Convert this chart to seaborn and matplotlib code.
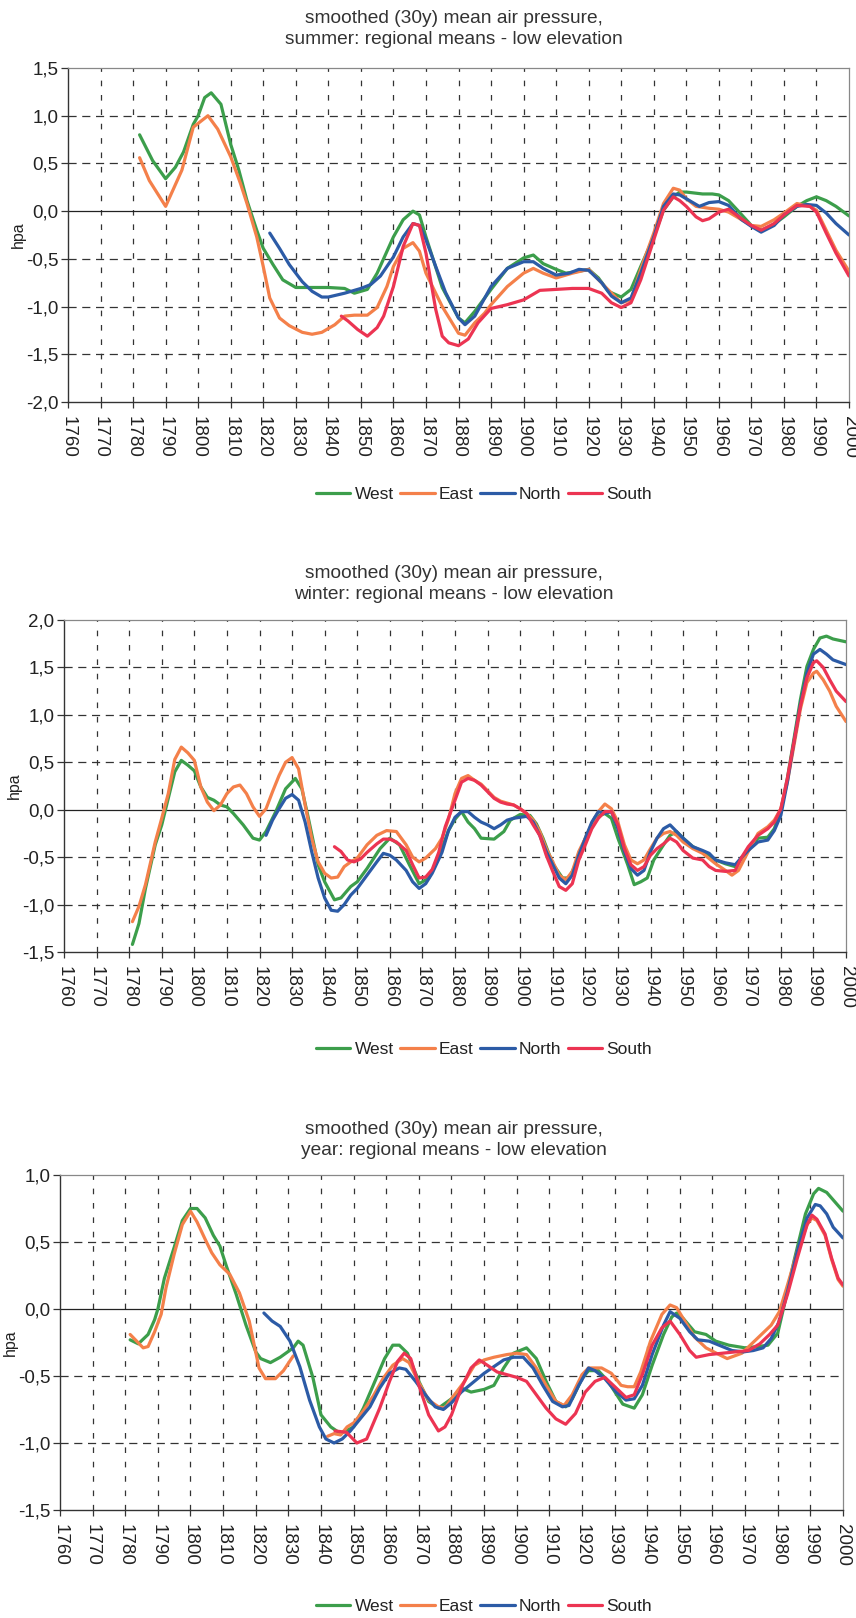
import numpy as np
import pandas as pd
import matplotlib
matplotlib.use("Agg")
import matplotlib.pyplot as plt
import seaborn as sns
from matplotlib.ticker import FuncFormatter, MultipleLocator

# ---- data (year, hpa) ----
SUMMER_WEST = [(1782, 0.80), (1786, 0.53), (1790, 0.34), (1793, 0.46), (1795.5, 0.62), (1798.5, 0.91),
               (1800, 1.00), (1802, 1.19), (1804, 1.24), (1807, 1.12), (1810, 0.70), (1812.5, 0.43),
               (1815, 0.11), (1818, -0.20), (1820, -0.39), (1823, -0.56), (1826, -0.72), (1830, -0.80),
               (1840, -0.80), (1845, -0.81), (1848, -0.86), (1852, -0.82), (1855, -0.65), (1860, -0.27),
               (1863, -0.09), (1866, 0.00), (1868, -0.04), (1870, -0.27), (1875, -0.80), (1880, -1.12),
               (1882, -1.17), (1885, -1.05), (1890, -0.82), (1895, -0.60), (1900, -0.49), (1903, -0.46),
               (1906, -0.55), (1910, -0.61), (1913, -0.65), (1917, -0.63), (1920, -0.61), (1923, -0.70),
               (1926, -0.84), (1930, -0.90), (1933, -0.82), (1936, -0.58), (1940, -0.27), (1943, 0.01),
               (1946, 0.15), (1948, 0.20), (1950, 0.20), (1955, 0.18), (1958, 0.18), (1960, 0.17),
               (1963, 0.11), (1966, 0.00), (1970, -0.15), (1973, -0.20), (1976, -0.16), (1980, -0.06),
               (1984, 0.05), (1987, 0.11), (1990, 0.15), (1993, 0.11), (1996, 0.05), (2000, -0.05)]
SUMMER_EAST = [(1782, 0.56), (1785, 0.32), (1790, 0.05), (1795, 0.43), (1798.5, 0.88), (1803, 1.00),
               (1806, 0.86), (1810, 0.57), (1813, 0.29), (1815, 0.08), (1818, -0.27), (1820, -0.58),
               (1822, -0.91), (1825, -1.12), (1828, -1.20), (1832, -1.27), (1835, -1.29), (1838, -1.27),
               (1842, -1.19), (1845, -1.10), (1848, -1.09), (1852, -1.09), (1855, -1.01), (1858, -0.79),
               (1860, -0.58), (1863, -0.39), (1866, -0.33), (1868, -0.42), (1870, -0.65), (1875, -1.00),
               (1880, -1.28), (1882, -1.30), (1885, -1.17), (1888, -1.07), (1890, -0.98), (1895, -0.79),
               (1900, -0.65), (1903, -0.60), (1906, -0.65), (1910, -0.70), (1915, -0.65), (1920, -0.61),
               (1925, -0.79), (1930, -0.96), (1933, -0.93), (1936, -0.61), (1940, -0.23), (1943, 0.08),
               (1946, 0.24), (1948, 0.22), (1950, 0.13), (1953, 0.05), (1957, 0.03), (1960, 0.02),
               (1963, -0.01), (1967, -0.09), (1970, -0.15), (1973, -0.16), (1977, -0.09), (1980, -0.02),
               (1984, 0.08), (1988, 0.05), (1990, 0.01), (1993, -0.20), (1996, -0.41), (2000, -0.63)]
SUMMER_NORTH = [(1822, -0.23), (1825, -0.39), (1828, -0.56), (1832, -0.74), (1835, -0.84), (1838, -0.90),
                (1840, -0.90), (1845, -0.86), (1850, -0.81), (1853, -0.77), (1856, -0.68), (1860, -0.48),
                (1863, -0.27), (1866, -0.13), (1868, -0.15), (1870, -0.30), (1873, -0.58), (1876, -0.85),
                (1880, -1.12), (1882, -1.19), (1885, -1.10), (1890, -0.79), (1895, -0.60), (1900, -0.53),
                (1903, -0.53), (1906, -0.60), (1910, -0.67), (1914, -0.65), (1917, -0.61), (1920, -0.62),
                (1924, -0.75), (1927, -0.89), (1930, -0.96), (1933, -0.91), (1936, -0.65), (1940, -0.27),
                (1943, 0.05), (1946, 0.18), (1948, 0.17), (1951, 0.11), (1954, 0.05), (1957, 0.09),
                (1960, 0.10), (1963, 0.06), (1967, -0.09), (1970, -0.16), (1973, -0.22), (1977, -0.15),
                (1980, -0.04), (1984, 0.05), (1987, 0.07), (1990, 0.06), (1993, -0.02), (1996, -0.13),
                (2000, -0.25)]
SUMMER_SOUTH = [(1844, -1.10), (1846, -1.15), (1849, -1.24), (1852, -1.31), (1855, -1.22), (1857, -1.10),
                (1860, -0.79), (1863, -0.37), (1866, -0.13), (1868, -0.15), (1870, -0.44), (1873, -1.03),
                (1875, -1.31), (1877, -1.38), (1880, -1.41), (1883, -1.34), (1886, -1.17), (1890, -1.02),
                (1895, -0.98), (1900, -0.93), (1905, -0.83), (1910, -0.82), (1915, -0.81), (1920, -0.81),
                (1924, -0.86), (1927, -0.96), (1930, -1.01), (1933, -0.96), (1936, -0.72), (1940, -0.30),
                (1943, 0.01), (1946, 0.15), (1948, 0.11), (1950, 0.05), (1953, -0.06), (1955, -0.10),
                (1957, -0.08), (1960, -0.01), (1963, 0.02), (1967, -0.08), (1970, -0.15), (1973, -0.20),
                (1977, -0.13), (1980, -0.04), (1984, 0.06), (1988, 0.05), (1990, -0.01), (1993, -0.23),
                (1996, -0.44), (2000, -0.68)]

WINTER_WEST = [(1781, -1.42), (1783, -1.20), (1785, -0.83), (1788, -0.37), (1790, -0.16), (1792, 0.12),
               (1794, 0.40), (1796, 0.52), (1798, 0.47), (1800, 0.41), (1802, 0.24), (1804, 0.13),
               (1806, 0.10), (1808, 0.05), (1810, 0.03), (1812, -0.04), (1815, -0.16), (1818, -0.30),
               (1820, -0.32), (1822, -0.23), (1825, -0.02), (1828, 0.22), (1831, 0.33), (1833, 0.22),
               (1835, -0.09), (1838, -0.58), (1840, -0.76), (1843, -0.95), (1845, -0.93), (1848, -0.81),
               (1850, -0.76), (1853, -0.62), (1857, -0.41), (1860, -0.30), (1863, -0.37), (1866, -0.58),
               (1869, -0.78), (1872, -0.72), (1875, -0.50), (1878, -0.22), (1880, -0.10), (1882, -0.02),
               (1884, -0.13), (1886, -0.20), (1888, -0.30), (1892, -0.31), (1895, -0.23), (1897, -0.11),
               (1900, -0.05), (1903, -0.06), (1905, -0.15), (1907, -0.30), (1910, -0.57), (1913, -0.72),
               (1915, -0.72), (1917, -0.58), (1920, -0.30), (1923, -0.08), (1926, -0.04), (1928, -0.09),
               (1930, -0.30), (1933, -0.58), (1935, -0.79), (1937, -0.76), (1939, -0.72), (1941, -0.53),
               (1944, -0.37), (1946, -0.27), (1948, -0.23), (1950, -0.30), (1953, -0.39), (1956, -0.44),
               (1960, -0.53), (1963, -0.57), (1966, -0.60), (1968, -0.51), (1970, -0.43), (1973, -0.30),
               (1976, -0.29), (1978, -0.20), (1980, -0.01), (1982, 0.33), (1984, 0.74), (1986, 1.16),
               (1988, 1.51), (1990, 1.69), (1992, 1.81), (1994, 1.83), (1996, 1.80), (2000, 1.77)]
WINTER_EAST = [(1781, -1.18), (1783, -1.02), (1785, -0.79), (1788, -0.34), (1790, -0.09), (1792, 0.17),
               (1794, 0.53), (1796, 0.66), (1798, 0.60), (1800, 0.52), (1802, 0.24), (1804, 0.08),
               (1806, -0.01), (1808, 0.05), (1810, 0.17), (1812, 0.24), (1814, 0.26), (1816, 0.17),
               (1818, 0.03), (1820, -0.07), (1822, 0.01), (1824, 0.19), (1826, 0.36), (1828, 0.50),
               (1830, 0.55), (1832, 0.43), (1834, 0.05), (1836, -0.30), (1838, -0.55), (1840, -0.67),
               (1842, -0.72), (1844, -0.71), (1846, -0.60), (1848, -0.55), (1850, -0.51), (1853, -0.37),
               (1856, -0.27), (1859, -0.22), (1862, -0.23), (1865, -0.37), (1867, -0.50), (1869, -0.55),
               (1871, -0.51), (1874, -0.41), (1876, -0.30), (1878, -0.10), (1880, 0.17), (1882, 0.33),
               (1884, 0.36), (1886, 0.31), (1888, 0.27), (1890, 0.20), (1892, 0.13), (1894, 0.09),
               (1896, 0.07), (1898, 0.05), (1900, 0.01), (1902, -0.04), (1904, -0.11), (1906, -0.23),
               (1908, -0.41), (1910, -0.55), (1912, -0.69), (1914, -0.74), (1916, -0.65), (1918, -0.44),
               (1920, -0.30), (1922, -0.15), (1924, -0.02), (1926, 0.06), (1928, 0.01), (1930, -0.13),
               (1932, -0.37), (1934, -0.53), (1936, -0.57), (1938, -0.53), (1940, -0.41), (1942, -0.30),
               (1944, -0.25), (1946, -0.23), (1948, -0.27), (1950, -0.34), (1953, -0.41), (1956, -0.46),
               (1960, -0.57), (1963, -0.64), (1965, -0.69), (1967, -0.64), (1970, -0.44), (1973, -0.25),
               (1976, -0.18), (1978, -0.11), (1980, 0.01), (1982, 0.29), (1984, 0.67), (1986, 1.06),
               (1988, 1.34), (1990, 1.44), (1991, 1.46), (1993, 1.37), (1995, 1.25), (1997, 1.09),
               (2000, 0.93)]
WINTER_NORTH = [(1822, -0.27), (1824, -0.11), (1826, 0.01), (1828, 0.12), (1830, 0.16), (1832, 0.10),
                (1834, -0.13), (1836, -0.44), (1838, -0.72), (1840, -0.93), (1842, -1.06), (1844, -1.07),
                (1846, -1.00), (1848, -0.90), (1850, -0.83), (1853, -0.69), (1856, -0.55), (1858, -0.46),
                (1860, -0.48), (1862, -0.53), (1865, -0.64), (1867, -0.76), (1869, -0.83), (1871, -0.78),
                (1873, -0.67), (1876, -0.45), (1878, -0.22), (1880, -0.08), (1882, -0.02), (1884, -0.02),
                (1886, -0.08), (1888, -0.13), (1890, -0.16), (1892, -0.20), (1894, -0.16), (1896, -0.11),
                (1898, -0.09), (1900, -0.08), (1902, -0.07), (1904, -0.13), (1906, -0.27), (1908, -0.44),
                (1910, -0.58), (1912, -0.72), (1914, -0.78), (1916, -0.69), (1918, -0.48), (1920, -0.30),
                (1922, -0.13), (1924, -0.02), (1926, -0.04), (1928, -0.02), (1930, -0.20), (1932, -0.44),
                (1934, -0.62), (1936, -0.69), (1938, -0.64), (1940, -0.44), (1942, -0.30), (1944, -0.20),
                (1946, -0.16), (1948, -0.23), (1950, -0.30), (1953, -0.39), (1956, -0.43), (1958, -0.46),
                (1960, -0.53), (1963, -0.56), (1966, -0.58), (1968, -0.50), (1970, -0.43), (1973, -0.34),
                (1976, -0.32), (1978, -0.22), (1980, -0.06), (1982, 0.29), (1984, 0.71), (1986, 1.11),
                (1988, 1.44), (1990, 1.64), (1992, 1.69), (1994, 1.64), (1996, 1.58), (2000, 1.53)]
WINTER_SOUTH = [(1843, -0.39), (1845, -0.44), (1847, -0.53), (1849, -0.55), (1851, -0.52), (1853, -0.45),
                (1856, -0.36), (1858, -0.31), (1860, -0.31), (1862, -0.34), (1865, -0.43), (1867, -0.58),
                (1869, -0.72), (1871, -0.71), (1873, -0.63), (1875, -0.45), (1877, -0.18), (1880, 0.10),
                (1882, 0.29), (1884, 0.33), (1886, 0.31), (1888, 0.26), (1890, 0.19), (1892, 0.12),
                (1894, 0.08), (1896, 0.06), (1898, 0.05), (1900, 0.01), (1902, -0.04), (1904, -0.16),
                (1906, -0.27), (1908, -0.48), (1910, -0.65), (1912, -0.81), (1914, -0.85), (1916, -0.78),
                (1918, -0.53), (1920, -0.37), (1922, -0.20), (1924, -0.09), (1926, -0.02), (1928, -0.02),
                (1930, -0.16), (1932, -0.41), (1934, -0.58), (1936, -0.64), (1938, -0.60), (1940, -0.48),
                (1942, -0.41), (1944, -0.36), (1946, -0.30), (1948, -0.34), (1950, -0.43), (1953, -0.51),
                (1956, -0.53), (1958, -0.60), (1960, -0.64), (1963, -0.65), (1966, -0.64), (1968, -0.50),
                (1970, -0.39), (1973, -0.27), (1976, -0.20), (1978, -0.13), (1980, 0.01), (1982, 0.33),
                (1984, 0.71), (1986, 1.09), (1988, 1.39), (1990, 1.55), (1991, 1.57), (1993, 1.50),
                (1995, 1.37), (1997, 1.25), (2000, 1.14)]

YEAR_WEST = [(1781.5, -0.23), (1784, -0.26), (1787, -0.19), (1789, -0.08), (1790, 0.00), (1792, 0.23),
             (1795, 0.46), (1797.5, 0.66), (1800, 0.75), (1802, 0.75), (1804.5, 0.68), (1807, 0.55),
             (1809, 0.47), (1811, 0.32), (1814, 0.11), (1817, -0.12), (1820, -0.32), (1821.5, -0.37),
             (1824.5, -0.40), (1827.5, -0.36), (1831.5, -0.29), (1833, -0.24), (1834.5, -0.27),
             (1837.5, -0.51), (1840, -0.79), (1843, -0.88), (1846, -0.93), (1850, -0.88), (1853, -0.74),
             (1856, -0.57), (1859.5, -0.37), (1862, -0.27), (1864, -0.27), (1866.5, -0.33), (1870, -0.54),
             (1873, -0.69), (1876, -0.74), (1880, -0.67), (1883, -0.59), (1886, -0.62), (1890, -0.60),
             (1893, -0.57), (1896, -0.44), (1899, -0.33), (1903, -0.29), (1906, -0.37), (1909, -0.54),
             (1912, -0.69), (1915, -0.73), (1917, -0.67), (1920, -0.52), (1922, -0.46), (1925, -0.46),
             (1928, -0.54), (1932.5, -0.71), (1936, -0.74), (1938.5, -0.64), (1941.5, -0.42), (1945, -0.19),
             (1947.5, -0.06), (1949, -0.03), (1951, -0.07), (1954.5, -0.17), (1958, -0.19), (1961, -0.24),
             (1965, -0.27), (1970, -0.29), (1974, -0.28), (1977, -0.27), (1980, -0.18), (1982, 0.03),
             (1985, 0.36), (1988.5, 0.71), (1991, 0.86), (1992.5, 0.90), (1995, 0.87), (1997.5, 0.80),
             (2000, 0.73)]
# East has a gap in the yearly series (1832-1841)
YEAR_EAST_A = [(1781.5, -0.19), (1783.5, -0.24), (1785.5, -0.29), (1787, -0.28), (1789, -0.17), (1791, -0.04),
               (1792.5, 0.16), (1795, 0.41), (1797.5, 0.63), (1800, 0.73), (1802, 0.65), (1804.5, 0.52),
               (1806.5, 0.42), (1809, 0.33), (1812, 0.26), (1815, 0.12), (1818, -0.09), (1821, -0.44),
               (1823, -0.52), (1826, -0.52), (1828.5, -0.46), (1831.5, -0.35)]
YEAR_EAST_B = [(1842, -0.95), (1844, -0.93), (1846, -0.94), (1848, -0.88), (1850, -0.85), (1853, -0.76),
               (1856, -0.65), (1859, -0.52), (1862, -0.42), (1865, -0.37), (1867, -0.40), (1870, -0.55),
               (1873, -0.68), (1876, -0.73), (1878, -0.74), (1880, -0.67), (1884, -0.54), (1887, -0.42),
               (1890, -0.38), (1893, -0.36), (1897, -0.34), (1900, -0.33), (1903, -0.34), (1906, -0.44),
               (1909, -0.57), (1912, -0.69), (1914.5, -0.72), (1917, -0.64), (1920, -0.49), (1922, -0.44),
               (1926, -0.44), (1929, -0.48), (1932, -0.57), (1934, -0.58), (1936, -0.58), (1938, -0.47),
               (1941, -0.24), (1944.5, -0.04), (1947, 0.03), (1949, 0.01), (1951.5, -0.09), (1954.5, -0.21),
               (1958, -0.29), (1962, -0.34), (1964.5, -0.37), (1969, -0.33), (1972, -0.26), (1975, -0.19),
               (1978, -0.12), (1980.5, -0.02), (1983, 0.18), (1986, 0.43), (1989, 0.63), (1990.5, 0.68),
               (1992, 0.66), (1994.5, 0.55), (1996.5, 0.37), (1998.5, 0.22), (2000, 0.17)]
YEAR_NORTH = [(1822.5, -0.03), (1825, -0.09), (1827.5, -0.13), (1830.5, -0.24), (1833.5, -0.43),
              (1836.5, -0.68), (1839.5, -0.88), (1841.5, -0.97), (1844, -1.00), (1846.5, -0.97), (1849, -0.91),
              (1852, -0.82), (1855, -0.73), (1858, -0.59), (1861, -0.48), (1864, -0.44), (1866, -0.45),
              (1869, -0.54), (1872, -0.64), (1875, -0.73), (1877.5, -0.75), (1880, -0.70), (1883, -0.62),
              (1886, -0.56), (1890, -0.48), (1893, -0.43), (1896, -0.38), (1899, -0.36), (1902, -0.36),
              (1905, -0.44), (1908, -0.57), (1911, -0.69), (1914, -0.73), (1916, -0.72), (1919, -0.57),
              (1922, -0.44), (1924, -0.46), (1927, -0.52), (1930.5, -0.62), (1933.5, -0.68), (1936, -0.67),
              (1938.5, -0.57), (1941.5, -0.34), (1945, -0.12), (1947, -0.02), (1950, -0.07), (1953, -0.17),
              (1955.5, -0.23), (1959, -0.24), (1962, -0.27), (1966, -0.31), (1969.5, -0.32), (1972.5, -0.31),
              (1975.5, -0.29), (1978, -0.22), (1980.5, -0.09), (1983, 0.13), (1986, 0.43), (1989, 0.68),
              (1991.5, 0.78), (1993, 0.77), (1995, 0.71), (1997, 0.61), (2000, 0.53)]
YEAR_SOUTH = [(1844.3, -0.91), (1847.8, -0.92), (1851, -1.00), (1854, -0.97), (1858, -0.74), (1861, -0.54),
              (1863.5, -0.39), (1865.5, -0.33), (1867.5, -0.37), (1870, -0.57), (1873, -0.79), (1876, -0.91),
              (1878, -0.88), (1880, -0.79), (1883, -0.59), (1886, -0.44), (1888.5, -0.38), (1891, -0.42),
              (1894, -0.47), (1897, -0.49), (1900, -0.51), (1903, -0.54), (1906, -0.64), (1909, -0.74),
              (1912, -0.82), (1915, -0.86), (1918, -0.78), (1921, -0.62), (1924, -0.54), (1927, -0.51),
              (1930.5, -0.59), (1933.5, -0.66), (1936, -0.64), (1938.5, -0.49), (1941.5, -0.27),
              (1944.5, -0.14), (1947, -0.09), (1950, -0.19), (1953, -0.31), (1955, -0.36), (1959, -0.34),
              (1963, -0.33), (1967, -0.32), (1971, -0.31), (1974.5, -0.26), (1977.5, -0.19), (1980, -0.12),
              (1983, 0.11), (1986, 0.38), (1989, 0.63), (1990.5, 0.70), (1992, 0.67), (1994.5, 0.56),
              (1996.5, 0.38), (1998.5, 0.23), (2000, 0.18)]

REGIONS = ["West", "East", "North", "South"]
COLORS = {"West": "#3c9e4b", "East": "#f4804a", "North": "#2c5ba6", "South": "#ec3452"}

PANELS = [
    {"season": "summer", "ylim": (-2.0, 1.5),
     "series": {"West": [SUMMER_WEST], "East": [SUMMER_EAST], "North": [SUMMER_NORTH], "South": [SUMMER_SOUTH]},
     "rect": (68, 68, 849, 402), "title_y": 29, "legend_y": 494},
    {"season": "winter", "ylim": (-1.5, 2.0),
     "series": {"West": [WINTER_WEST], "East": [WINTER_EAST], "North": [WINTER_NORTH], "South": [WINTER_SOUTH]},
     "rect": (64, 620, 846, 952), "title_y": 584, "legend_y": 1049},
    {"season": "year", "ylim": (-1.5, 1.0),
     "series": {"West": [YEAR_WEST], "East": [YEAR_EAST_A, YEAR_EAST_B], "North": [YEAR_NORTH], "South": [YEAR_SOUTH]},
     "rect": (60, 1175, 843, 1510), "title_y": 1140, "legend_y": 1606},
]

W, H = 856, 1618

sns.set_theme(style="white")
plt.rcParams["font.family"] = ["Liberation Sans", "DejaVu Sans"]


def comma(v, pos):
    return f"{v:.1f}".replace(".", ",")


def draw_panel(fig, p):
    x0, y0, x1, y1 = p["rect"]
    ax = fig.add_axes([x0 / W, 1 - y1 / H, (x1 - x0) / W, (y1 - y0) / H])

    for region in REGIONS:
        for i, seg in enumerate(p["series"][region]):
            df = pd.DataFrame(seg, columns=["year", "hpa"])
            sns.lineplot(data=df, x="year", y="hpa", ax=ax, color=COLORS[region],
                         linewidth=2.3, label=region if i == 0 else None,
                         estimator=None, sort=False, zorder=3)

    ax.set_xlim(1760, 2000)
    ax.set_ylim(*p["ylim"])
    ax.xaxis.set_major_locator(MultipleLocator(10))
    ax.yaxis.set_major_locator(MultipleLocator(0.5))
    ax.yaxis.set_major_formatter(FuncFormatter(comma))

    # excel-like dashed grid
    for yv in np.arange(p["ylim"][0] + 0.5, p["ylim"][1], 0.5):
        if abs(yv) < 1e-9:
            ax.axhline(0, color="#222222", lw=0.9, zorder=2)
        else:
            ax.axhline(yv, color="#333333", lw=0.9, ls=(0, (6.5, 4.5)), zorder=1)
    for xv in range(1770, 2000, 10):
        ax.axvline(xv, color="#333333", lw=0.9, ls=(0, (4.5, 7)), zorder=1)

    for side in ["left", "bottom"]:
        ax.spines[side].set_color("#333333")
        ax.spines[side].set_linewidth(1.0)
    for side in ["top", "right"]:
        ax.spines[side].set_color("#888888")
        ax.spines[side].set_linewidth(0.9)

    ax.tick_params(axis="y", which="major", left=True, length=5, width=0.9, color="#333333",
                   labelsize=13.5, pad=2, labelcolor="#222222")
    ax.tick_params(axis="x", which="major", bottom=True, length=4, width=0.9, color="#333333",
                   labelsize=13.5, pad=6, labelcolor="#222222")
    for lab in ax.get_xticklabels():
        lab.set_rotation(-90)
        lab.set_va("top")
        lab.set_ha("center")

    ax.set_xlabel("")
    ax.set_ylabel("hpa", fontsize=11.5, color="#222222")
    # right edge of the rotated label sits ~42 px left of the axis
    ax.yaxis.set_label_coords(-42 / (x1 - x0), 0.5)

    title = ("smoothed (30y) mean air pressure,\n"
             f"{p['season']}: regional means - low elevation")
    fig.text(454 / W, 1 - p["title_y"] / H, title, ha="center", va="center",
             fontsize=13.8, color="#333333", linespacing=1.35)

    ax.get_legend().remove()
    handles, labels = ax.get_legend_handles_labels()
    fig.legend(handles, labels, loc="center", bbox_to_anchor=(484 / W, 1 - p["legend_y"] / H),
               ncol=4, frameon=False, fontsize=12.5, handlelength=2.0, handletextpad=0.25,
               columnspacing=0.35, labelcolor="#222222")
    return ax


def main():
    fig = plt.figure(figsize=(W / 100, H / 100), dpi=100)
    fig.patch.set_facecolor("white")
    for p in PANELS:
        draw_panel(fig, p)
    fig.savefig("out.png", dpi=100, facecolor="white")
    plt.close(fig)


if __name__ == "__main__":
    main()
